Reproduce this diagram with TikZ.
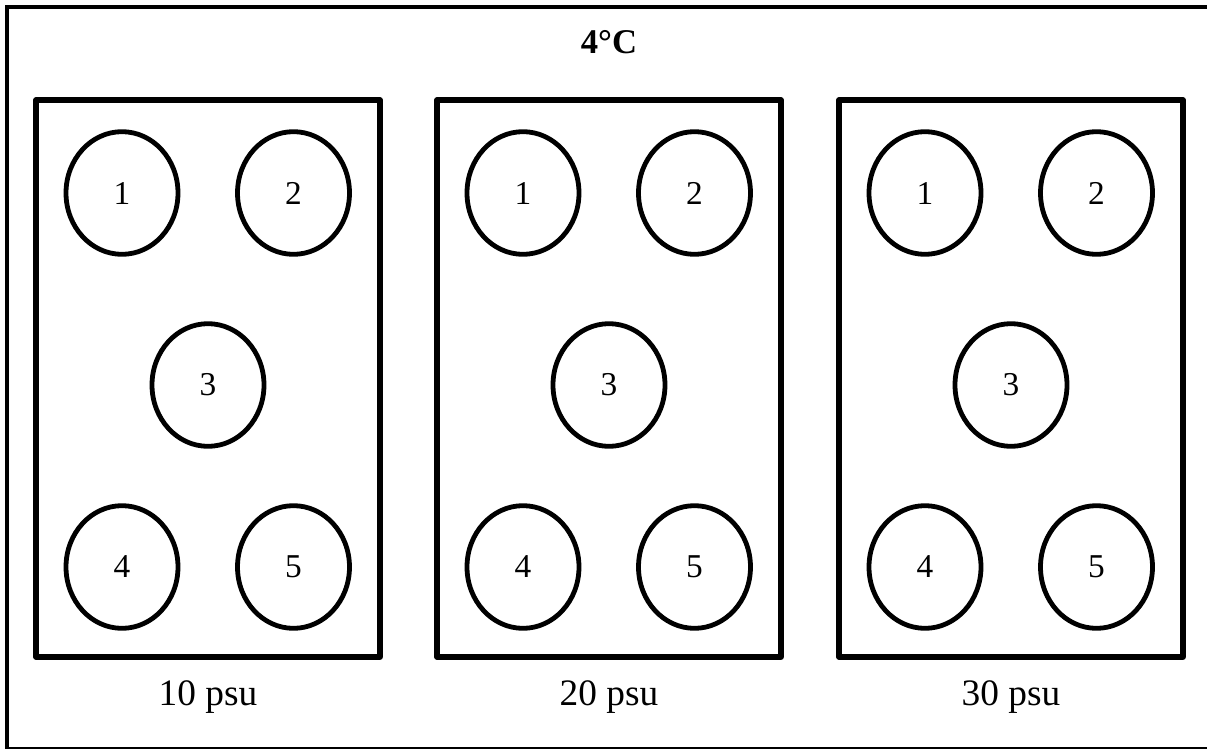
\documentclass[tikz,border=0pt]{standalone}
\usepackage{fontspec}
\setmainfont{Liberation Serif}
\usetikzlibrary{shapes.geometric}
\begin{document}
\begin{tikzpicture}[x=0.75pt,y=-0.75pt,
  outer/.style={draw=black,line width=3.2pt},
  tank/.style={draw=black,line width=3.8pt,line join=round},
  well/.style={draw=black,ellipse,line width=3.6pt,minimum width=84pt,minimum height=92pt,inner sep=0pt,font=\fontsize{25}{28}\selectfont},
  lab/.style={font=\fontsize{28}{32}\selectfont,anchor=base},
  title/.style={font=\bfseries\fontsize{26}{30}\selectfont}]
\useasboundingbox (0,0) rectangle (1207,749);
\draw[outer] (7,7) rectangle (1230,749.5);
\node[title] (t) at (609,42) {4°C};
\foreach \k/\xl/\s in {1/36/10,2/437/20,3/839/30}{
  \draw[tank] (\xl,100) rectangle ++(344,557);
  \node[lab] (l\k) at ({\xl+172},705) {\s{} psu};
  \node[well] (c\k-1) at ({\xl+86},193) {1};
  \node[well] (c\k-2) at ({\xl+257.5},193) {2};
  \node[well] (c\k-3) at ({\xl+172},385) {3};
  \node[well] (c\k-4) at ({\xl+86},567) {4};
  \node[well] (c\k-5) at ({\xl+257.5},567) {5};
}
\end{tikzpicture}
\end{document}
